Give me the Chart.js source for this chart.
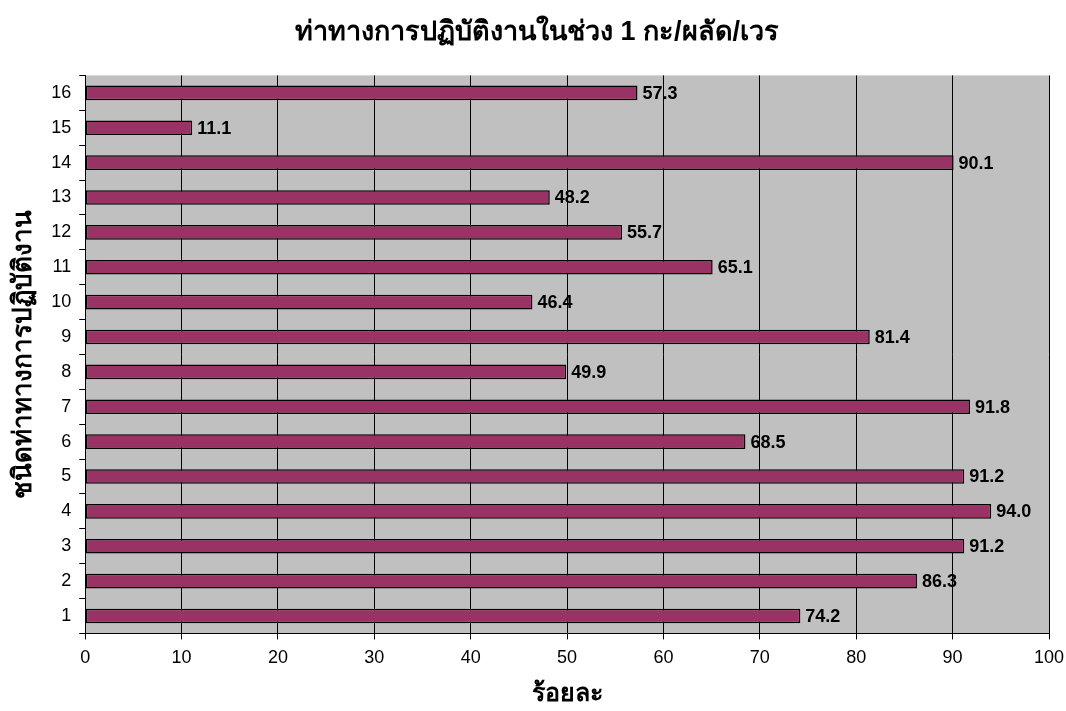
<!DOCTYPE html>
<html>
<head>
<meta charset="utf-8">
<script src="https://cdn.jsdelivr.net/npm/chart.js@4/dist/chart.umd.min.js"></script>
<style>
  html, body { margin: 0; padding: 0; background: #fff; }
  #wrap { width: 1066px; height: 711px; }
</style>
</head>
<body>
<div id="wrap"><canvas id="chart"></canvas></div>
<script>
// categories (posture type 1..16) and their percentages
const categories = ['1', '2', '3', '4', '5', '6', '7', '8', '9', '10', '11', '12', '13', '14', '15', '16'];
const percents = [74.2, 86.3, 91.2, 94.0, 91.2, 68.5, 91.8, 49.9, 81.4, 46.4, 65.1, 55.7, 48.2, 90.1, 11.1, 57.3];
const xTicks = [0, 10, 20, 30, 40, 50, 60, 70, 80, 90, 100];

const titleText = 'ท่าทางการปฏิบัติงานในช่วง 1 กะ/ผลัด/เวร';
const xTitle = 'ร้อยละ';
const yTitle = 'ชนิดท่าทางการปฏิบัติงาน';

const FONT = "'Liberation Sans', Arial, 'Noto Sans', sans-serif";

// grey plot area
const plotBg = {
    id: 'plotBg',
    beforeDraw(chart) {
        const { ctx, chartArea: a } = chart;
        ctx.save();
        ctx.fillStyle = '#c0c0c0';
        ctx.fillRect(a.left, a.top, a.right - a.left, a.bottom - a.top);
        ctx.restore();
    }
};

// value labels at the end of each bar
const barLabels = {
    id: 'barLabels',
    afterDatasetsDraw(chart) {
        const { ctx } = chart;
        const meta = chart.getDatasetMeta(0);
        ctx.save();
        ctx.font = 'bold 18px ' + FONT;
        ctx.fillStyle = '#000';
        ctx.textBaseline = 'middle';
        ctx.textAlign = 'left';
        meta.data.forEach((bar, i) => {
            ctx.fillText(percents[i].toFixed(1), bar.x + 5, bar.y + 1);
        });
        ctx.restore();
    }
};

new Chart(document.getElementById('chart'), {
    type: 'bar',
    data: {
        labels: categories,
        datasets: [{
            data: percents,
            backgroundColor: '#993366',
            borderColor: '#000',
            borderWidth: 1.5,
            borderSkipped: false,
            barPercentage: 0.42,
            categoryPercentage: 1.0
        }]
    },
    options: {
        indexAxis: 'y',
        responsive: true,
        maintainAspectRatio: false,
        animation: false,
        layout: { padding: { left: 8, right: 0, top: 4, bottom: 2 } },
        plugins: {
            legend: { display: false },
            tooltip: { enabled: false },
            title: {
                display: true,
                text: titleText,
                color: '#000',
                font: { family: FONT, size: 27, weight: 'bold' },
                padding: { top: 12, bottom: 27 }
            }
        },
        scales: {
            x: {
                min: 0,
                max: 100,
                afterBuildTicks(axis) { axis.ticks = xTicks.map(v => ({ value: v })); },
                afterFit(axis) { axis.paddingRight = 17; },
                grid: { color: '#000', lineWidth: 1, tickLength: 6, drawOnChartArea: true },
                border: { color: '#000' },
                ticks: { color: '#000', font: { family: FONT, size: 18 }, padding: 8 },
                title: {
                    display: true,
                    text: xTitle,
                    color: '#000',
                    font: { family: FONT, size: 25, weight: 'bold' },
                    padding: { top: 2, bottom: 0 }
                }
            },
            y: {
                reverse: true,
                grid: { color: '#000', tickLength: 6, drawOnChartArea: false, offset: true },
                border: { color: '#000' },
                ticks: { color: '#000', font: { family: FONT, size: 18 }, padding: 8 },
                title: {
                    display: true,
                    text: yTitle,
                    color: '#000',
                    font: { family: FONT, size: 26, weight: 'bold' },
                    padding: { top: 0, bottom: 4 }
                }
            }
        }
    },
    plugins: [plotBg, barLabels]
});
</script>
</body>
</html>
